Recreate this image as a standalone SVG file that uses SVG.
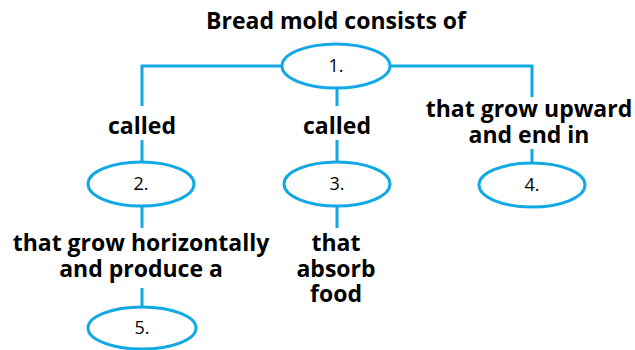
<svg xmlns="http://www.w3.org/2000/svg" width="635" height="350" viewBox="0 0 635 350">
<style>
.lbl{font-family:"Open Sans","Noto Sans",sans-serif;font-weight:700;font-size:23px;fill:#000;text-anchor:middle}
.num{font-family:"Open Sans","Noto Sans",sans-serif;font-size:18px;fill:#000;text-anchor:middle}
.ov{fill:#fff;stroke:#12a8e4;stroke-width:3}
.ln{fill:none;stroke:#12a8e4;stroke-width:3}
</style>
<rect width="635" height="350" fill="#fff"/>
<g id="connectors">
<path class="ln" d="M282,66 H142 V106"/>
<path class="ln" d="M390,66 H532 V97"/>
<path class="ln" d="M337,88 V106"/>
<path class="ln" d="M142,140 V162"/>
<path class="ln" d="M337,140 V162"/>
<path class="ln" d="M532,149 V163"/>
<path class="ln" d="M142,206 V228"/>
<path class="ln" d="M337,206 V228"/>
<path class="ln" d="M142,288 V307"/>
</g>
<g id="title"><text class="lbl" x="336" y="29">Bread mold consists of</text></g>
<g id="node1"><ellipse class="ov" cx="336" cy="66" rx="54" ry="22"/><text class="num" x="336" y="72">1.</text></g>
<g id="label-called-left"><text class="lbl" x="142" y="134">called</text></g>
<g id="label-called-mid"><text class="lbl" x="337" y="134">called</text></g>
<g id="label-upward"><text class="lbl" x="529" y="117">that grow upward</text><text class="lbl" x="529" y="143">and end in</text></g>
<g id="node2"><ellipse class="ov" cx="141" cy="184" rx="53" ry="22"/><text class="num" x="141" y="190">2.</text></g>
<g id="node3"><ellipse class="ov" cx="337" cy="184" rx="53" ry="22"/><text class="num" x="337" y="190">3.</text></g>
<g id="node4"><ellipse class="ov" cx="532" cy="185" rx="53" ry="22"/><text class="num" x="532" y="191">4.</text></g>
<g id="label-horizontal"><text class="lbl" x="141" y="251">that grow horizontally</text><text class="lbl" x="141" y="277">and produce a</text></g>
<g id="label-absorb"><text class="lbl" x="336" y="251">that</text><text class="lbl" x="336" y="277">absorb</text><text class="lbl" x="336" y="302">food</text></g>
<g id="node5"><ellipse class="ov" cx="142" cy="328" rx="54" ry="21"/><text class="num" x="142" y="334">5.</text></g>
</svg>
